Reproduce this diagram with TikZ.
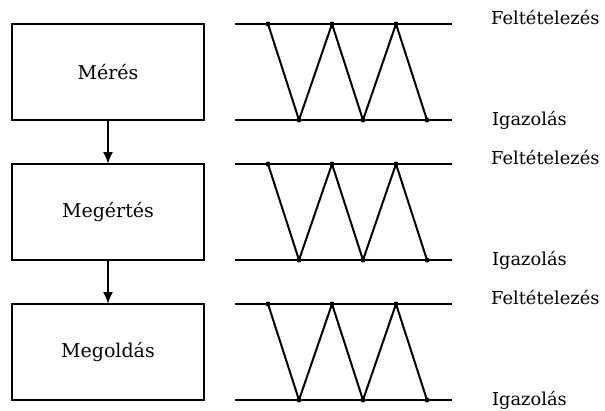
\documentclass[tikz,border=0pt]{standalone}
\usepackage{fontspec}
\setmainfont{DejaVu Serif}
\usepackage{tikz}
\usetikzlibrary{arrows.meta, positioning, calc}
\tikzset{
    stage/.style={draw, line width=2pt, outer sep=0pt, inner sep=0pt,
        minimum width=192pt, minimum height=96pt, font=\fontsize{19}{22}\selectfont},
    rail/.style={line width=2pt},
    zig/.style={line width=2pt, line join=round},
    tag/.style={anchor=base west, inner sep=0pt, font=\fontsize{17.8}{20}\selectfont},
    flow/.style={line width=2pt, -{Latex[length=12pt,width=10pt]}},
}

\begin{document}
\begin{tikzpicture}[x=1pt, y=-1pt]
    \useasboundingbox (0,0) rectangle (605,410);
    \fill[white] (0,0) rectangle (605,410);
    % the three stages
    \node[stage] (meres) at (108,72) {Mérés};
    \node[stage, below=44pt of meres] (megertes) {Megértés};
    \node[stage, below=44pt of megertes] (megoldas) {Megoldás};
    \draw[flow] (meres) -- (megertes);
    \draw[flow] (megertes) -- (megoldas);
    % hypothesis / verification zigzags
    \foreach \b in {meres,megertes,megoldas}{%
      \coordinate (\b-up) at ($(\b.north east)+(31,0)$);
      \coordinate (\b-dn) at ($(\b.south east)+(31,0)$);
      \draw[rail] (\b-up) -- ++(217,0) coordinate (\b-upend);
      \draw[rail] (\b-dn) -- ++(217,0) coordinate (\b-dnend);
      \coordinate (\b-p1) at ($(\b-up)+(33,0)$);
      \coordinate (\b-p2) at ($(\b-up)+(97,0)$);
      \coordinate (\b-p3) at ($(\b-up)+(161,0)$);
      \coordinate (\b-q1) at ($(\b-dn)+(64,0)$);
      \coordinate (\b-q2) at ($(\b-dn)+(128,0)$);
      \coordinate (\b-q3) at ($(\b-dn)+(192,0)$);
      \draw[zig] (\b-p1) -- (\b-q1) -- (\b-p2) -- (\b-q2) -- (\b-p3) -- (\b-q3);
      \foreach \v in {p1,p2,p3,q1,q2,q3}
        \fill (\b-\v) circle (2.5pt);
      \node[tag] (\b-hyp) at ($(\b-upend)+(39,0)$) {Feltételezés};
      \node[tag] (\b-ver) at ($(\b-dnend)+(40,5)$) {Igazolás};
    }
\end{tikzpicture}
\end{document}
